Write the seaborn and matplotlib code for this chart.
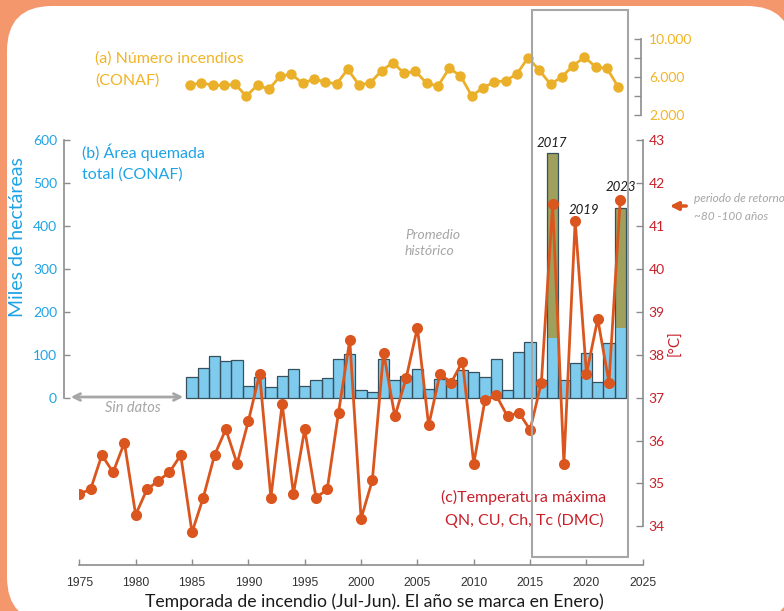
import numpy as np
import pandas as pd
import matplotlib
matplotlib.use("Agg")
import matplotlib.pyplot as plt
import seaborn as sns
from matplotlib.patches import FancyBboxPatch, Rectangle, FancyArrowPatch
from matplotlib.transforms import IdentityTransform
from matplotlib.ticker import FixedLocator, FixedFormatter

# ---------------- data ----------------
temp_years = list(range(1975, 2024))
temp_max = [34.76, 34.86, 35.66, 35.26, 35.95, 34.27, 34.86, 35.06, 35.26, 35.66,
            33.86, 34.67, 35.66, 36.26, 35.46, 36.45, 37.55, 34.67, 36.85, 34.76,
            36.26, 34.67, 34.86, 36.65, 38.34, 34.18, 35.07, 38.05, 36.56, 37.45,
            38.63, 36.35, 37.55, 37.35, 37.84, 35.46, 36.95, 37.05, 36.56, 36.65,
            36.25, 37.35, 41.50, 35.46, 41.12, 37.55, 38.83, 37.35, 41.61]

fire_years = list(range(1985, 2024))
area_total = [48, 68, 98, 85, 88, 27, 48, 25, 51, 66,
              27, 40, 45, 91, 102, 18, 12, 91, 42, 51,
              66, 20, 43, 42, 65, 59, 47, 91, 18, 106,
              130, 42, 570, 40, 81, 103, 36, 126, 441]
area_base = [48, 68, 98, 85, 88, 27, 48, 25, 51, 66,
             27, 40, 45, 91, 102, 18, 12, 91, 42, 51,
             66, 20, 43, 42, 65, 59, 47, 91, 18, 106,
             130, 42, 138, 40, 81, 103, 36, 126, 161]
fire_count = [5170, 5410, 5140, 5140, 5240, 4010, 5170, 4710, 6120, 6300,
              5350, 5800, 5490, 5280, 6830, 5170, 5410, 6680, 7530, 6410,
              6620, 5350, 5060, 6930, 6150, 4010, 4880, 5490, 5620, 6330,
              8060, 6720, 5240, 6050, 7210, 8130, 7070, 6930, 4960]

x_ticks = list(range(1975, 2026, 5))
area_ticks = [0, 100, 200, 300, 400, 500, 600]
temp_ticks = list(range(34, 44))
count_ticks = [2000, 4000, 6000, 8000, 10000]
count_labels = ["2.000", "", "6.000", "", "10.000"]

# ---------------- style ----------------
ORANGE_BG = "#F4976C"
BLUE_TXT = "#1FA3E6"
BLUE_BAR = "#7FCBEE"
OLIVE = "#9FA05C"
EDGE = "#36505E"
TEMP_C = "#DA561E"
RED_TXT = "#C8202A"
GOLD = "#EBB02A"
GOLD_TXT = "#F2B425"
GRAY = "#8C8C8C"
LIGHT_GRAY = "#A6A6A6"

sns.set_theme(style="white")
plt.rcParams['font.family'] = ['Lato', 'DejaVu Sans']

W, H = 784, 611
fig = plt.figure(figsize=(W / 100, H / 100), dpi=100, facecolor=ORANGE_BG)


def px_rect(x0, y0, x1, y1):
    """Pixel box (top-left origin) -> figure fraction rectangle."""
    return [x0 / W, 1 - y1 / H, (x1 - x0) / W, (y1 - y0) / H]


def fx(x):
    return x / W


def fy(y):
    return 1 - y / H


# white rounded panel
panel = FancyBboxPatch((7, H - 622), 785, 616,
                       boxstyle="round,pad=0,rounding_size=45",
                       transform=IdentityTransform(), facecolor="white",
                       edgecolor="none", zorder=-5)
fig.add_artist(panel)

# ---------------- main axes: area (left) + temperature (right) ----------------
t_lo, t_hi = 33.10, 43.0
ax_a = fig.add_axes(px_rect(79.3, 140, 642.8, 565))
ax_a.patch.set_visible(False)

df_area = pd.DataFrame({"year": fire_years, "total": area_total, "base": area_base})
sns.barplot(data=df_area, x="year", y="total", native_scale=True, width=1,
            color=OLIVE, saturation=1, linewidth=0, ax=ax_a)
sns.barplot(data=df_area, x="year", y="base", native_scale=True, width=1,
            color=BLUE_BAR, saturation=1, linewidth=0, ax=ax_a)
sns.barplot(data=df_area, x="year", y="total", native_scale=True, width=1,
            color=EDGE, fill=False, linewidth=0.9, ax=ax_a)

ax_a.set_xlim(1975, 2025)
ax_a.set_ylim((t_lo - 37) * 100, (t_hi - 37) * 100)
ax_a.set_xlabel("")
ax_a.set_ylabel("")
ax_a.xaxis.set_major_locator(FixedLocator(x_ticks))
ax_a.xaxis.set_major_formatter(FixedFormatter([str(v) for v in x_ticks]))
ax_a.set_yticks(area_ticks)
ax_a.set_yticklabels([str(v) for v in area_ticks])
for s in ["top", "right"]:
    ax_a.spines[s].set_visible(False)
ax_a.spines["left"].set_position(("outward", 11))
ax_a.spines["left"].set_bounds(0, 600)
ax_a.spines["bottom"].set_bounds(1975, 2025)
for s in ["left", "bottom"]:
    ax_a.spines[s].set_color(GRAY)
    ax_a.spines[s].set_linewidth(1.2)
ax_a.tick_params(axis="y", left=True, direction="in", length=4, width=1,
                 color=GRAY, labelcolor=BLUE_TXT, labelsize=10, pad=5)
ax_a.tick_params(axis="x", bottom=True, direction="in", length=4, width=1,
                 color=GRAY, labelcolor="#333333", labelsize=8.8, pad=9)
for lab in ax_a.get_xticklabels():
    lab.set_family(["Liberation Sans", "DejaVu Sans"])

ax_t = ax_a.twinx()
ax_t.patch.set_visible(False)
sns.lineplot(x=temp_years, y=temp_max, ax=ax_t, color=TEMP_C, linewidth=2,
             marker="o", markersize=8, markeredgewidth=0)
ax_t.set_ylim(t_lo, t_hi)
ax_t.set_xlim(1975, 2025)
ax_t.set_ylabel("")
ax_t.set_yticks(temp_ticks)
ax_t.set_yticklabels([str(v) for v in temp_ticks])
for s in ["top", "left", "bottom"]:
    ax_t.spines[s].set_visible(False)
ax_t.spines["right"].set_bounds(34, 43)
ax_t.spines["right"].set_color(GRAY)
ax_t.spines["right"].set_linewidth(1.2)
ax_t.tick_params(axis="y", right=True, direction="in", length=5, width=1,
                 color=GRAY, labelcolor=RED_TXT, labelsize=10, pad=4)

# ---------------- top axes: number of fires ----------------
c_px = 8000 / 75.7
ax_c = fig.add_axes(px_rect(77.3, 30, 640.8, 120))
ax_c.patch.set_visible(False)
sns.lineplot(x=fire_years, y=fire_count, ax=ax_c, color=GOLD, linewidth=2,
             marker="o", markersize=7.5, markeredgewidth=0)
ax_c.set_xlim(1975, 2025)
ax_c.set_ylim(2000 - 5 * c_px, 10000 + 9.3 * c_px)
ax_c.set_xlabel("")
ax_c.set_ylabel("")
ax_c.set_xticks([])
ax_c.yaxis.tick_right()
ax_c.yaxis.set_major_locator(FixedLocator(count_ticks))
ax_c.yaxis.set_major_formatter(FixedFormatter(count_labels))
for s in ["top", "left", "bottom"]:
    ax_c.spines[s].set_visible(False)
ax_c.spines["right"].set_bounds(2000, 10000)
ax_c.spines["right"].set_color(GRAY)
ax_c.spines["right"].set_linewidth(1.2)
ax_c.tick_params(axis="y", right=True, left=False, direction="in", length=5,
                 width=1, color=GRAY, labelcolor=GOLD_TXT, labelsize=10, pad=6)

# ---------------- highlight box of recent seasons ----------------
fig.add_artist(Rectangle((532, H - 557), 96, 547, transform=IdentityTransform(),
                         fill=False, edgecolor=LIGHT_GRAY, linewidth=1.5, zorder=5))

# ---------------- annotations ----------------
fig.text(fx(95), fy(59), "(a) Número incendios", color=GOLD_TXT, fontsize=11.5, va="center")
fig.text(fx(95), fy(81), "(CONAF)", color=GOLD_TXT, fontsize=11.5, va="center")
fig.text(fx(82), fy(152), "(b) Área quemada", color=BLUE_TXT, fontsize=11.5, va="center")
fig.text(fx(82), fy(175), "total (CONAF)", color=BLUE_TXT, fontsize=11.5, va="center")
fig.text(fx(18), fy(237), "Miles de hectáreas", color=BLUE_TXT, fontsize=14,
         rotation=90, ha="center", va="center")
fig.text(fx(524), fy(497), "(c)Temperatura máxima", color=RED_TXT, fontsize=11.5,
         ha="center", va="center")
fig.text(fx(524), fy(520), "QN, CU, Ch, Tc (DMC)", color=RED_TXT, fontsize=11.5,
         ha="center", va="center")
fig.text(fx(675), fy(343), "[°C]", color=RED_TXT, fontsize=11, rotation=90,
         ha="center", va="center")
fig.text(fx(374), fy(602), "Temporada de incendio (Jul-Jun). El año se marca en Enero)",
         color="#1a1a1a", fontsize=12.7, ha="center", va="center")

fig.text(fx(405), fy(235), "Promedio", color=LIGHT_GRAY, fontsize=10, style="italic", va="center")
fig.text(fx(405), fy(251), "histórico", color=LIGHT_GRAY, fontsize=10, style="italic", va="center")
fig.text(fx(133), fy(408), "Sin datos", color=LIGHT_GRAY, fontsize=10.5, style="italic",
         ha="center", va="center")
fig.text(fx(552), fy(143), "2017", color="#1a1a1a", fontsize=9.5, style="italic",
         ha="center", va="center")
fig.text(fx(584), fy(210), "2019", color="#1a1a1a", fontsize=9.5, style="italic",
         ha="center", va="center")
fig.text(fx(621), fy(187), "2023", color="#1a1a1a", fontsize=9.5, style="italic",
         ha="center", va="center")
fig.text(fx(694), fy(199), "periodo de retorno", color=LIGHT_GRAY, fontsize=8.6,
         style="italic", va="center")
fig.text(fx(694), fy(216), "~80 -100 años", color=LIGHT_GRAY, fontsize=8.6,
         style="italic", va="center")

fig.add_artist(FancyArrowPatch((689, H - 206), (667, H - 206), transform=IdentityTransform(),
                               arrowstyle="-|>", mutation_scale=12, color=TEMP_C,
                               linewidth=2.5, zorder=6))
fig.add_artist(FancyArrowPatch((68, H - 397), (186, H - 397), transform=IdentityTransform(),
                               arrowstyle="<->", mutation_scale=12, color=LIGHT_GRAY,
                               linewidth=2, zorder=6))

fig.savefig("out.png", dpi=100, facecolor=fig.get_facecolor())
